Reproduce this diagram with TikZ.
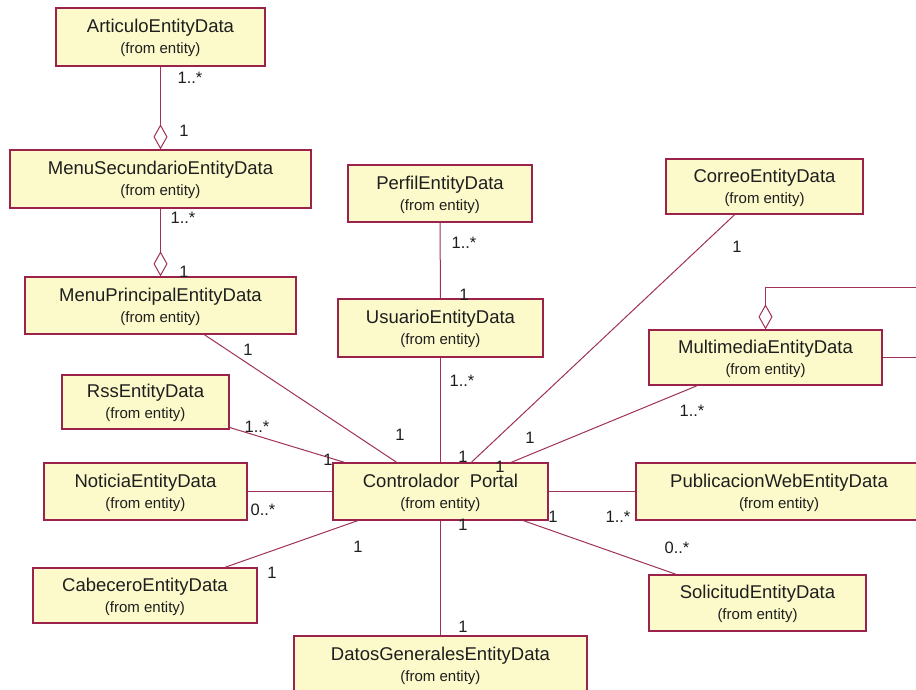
\documentclass[tikz,border=0pt]{standalone}
\usepackage{fontspec}
\setmainfont{Liberation Sans}
\usetikzlibrary{arrows.meta,calc}

\definecolor{umlred}{RGB}{155,35,75}
\definecolor{umlline}{RGB}{160,50,85}
\definecolor{umlfill}{RGB}{252,250,202}
\definecolor{umltext}{RGB}{30,30,30}

% class box contents: name on the first line, package on the second
\newcommand\etitle[1]{\rule{0pt}{16pt}#1}
\newcommand\efrom{{\fontsize{15}{21}\selectfont (from entity)}}

\tikzset{
  entity/.style={draw=umlred, line width=1.3pt, fill=umlfill, inner sep=0pt,
    align=center, text=umltext, minimum height=57pt,
    font=\fontsize{18.5}{21}\selectfont},
  assoc/.style={draw=umlline, line width=1pt},
  aggr/.style={assoc, -{Diamond[open, length=25pt, width=14pt, line width=1pt]}},
  mult/.style={inner sep=0pt, text=umltext, font=\fontsize{16.5}{18}\selectfont},
}

\begin{document}
\begin{tikzpicture}[x=1pt, y=-1pt]
\useasboundingbox (0,0) rectangle (916,690);
\clip (0,0) rectangle (916,690);
\fill[white] (0,0) rectangle (916,690);

% classes
\node[entity, minimum width=209pt, minimum height=58pt] (art)   at (160.5,37)    {\etitle{ArticuloEntityData}\\\efrom};
\node[entity, minimum width=301pt, minimum height=58pt] (msec)  at (160.5,179)   {\etitle{MenuSecundarioEntityData}\\\efrom};
\node[entity, minimum width=271pt, minimum height=57pt] (mprin) at (160.5,305.5) {\etitle{MenuPrincipalEntityData}\\\efrom};
\node[entity, minimum width=184pt, minimum height=57pt] (perf)  at (440,193.5)   {\etitle{PerfilEntityData}\\\efrom};
\node[entity, minimum width=205pt, minimum height=58pt] (usu)   at (440.5,328)   {\etitle{UsuarioEntityData}\\\efrom};
\node[entity, minimum width=197pt, minimum height=55pt] (corr)  at (764.5,186.5) {\etitle{CorreoEntityData}\\\efrom};
\node[entity, minimum width=233pt, minimum height=55pt] (mm)    at (765.5,357.5) {\etitle{MultimediaEntityData}\\\efrom};
\node[entity, minimum width=167pt, minimum height=54pt] (rss)   at (145.5,402)   {\etitle{RssEntityData}\\\efrom};
\node[entity, minimum width=203pt, minimum height=57pt] (noti)  at (145.5,491.5) {\etitle{NoticiaEntityData}\\\efrom};
\node[entity, minimum width=215pt, minimum height=57pt] (ctrl)  at (440.5,491.5) {\etitle{Controlador\ \ Portal}\\\efrom};
\node[entity, minimum width=286pt, minimum height=57pt] (pub)   at (779,491.5)   {\etitle{PublicacionWebEntityData}\\\efrom};
\node[entity, minimum width=224pt, minimum height=55pt] (cab)   at (145,595.5)   {\etitle{CabeceroEntityData}\\\efrom};
\node[entity, minimum width=217pt, minimum height=56pt] (sol)   at (757.5,603)   {\etitle{SolicitudEntityData}\\\efrom};
\node[entity, minimum width=293pt, minimum height=58pt] (datos) at (440.5,665)   {\etitle{DatosGeneralesEntityData}\\\efrom};

% aggregations
\draw[aggr] (art) -- (msec);
\draw[aggr] (msec) -- (mprin);
\draw[aggr] (mm.east) -- ++(42,0) |- ($(mm.north)+(0,-42)$) -- (mm.north);

% associations
\draw[assoc] (perf) -- (usu);
\draw[assoc] (usu) -- (ctrl);
\draw[assoc] (mprin) -- (ctrl);
\draw[assoc] (corr) -- (ctrl);
\draw[assoc] (mm) -- (ctrl);
\draw[assoc] (rss) -- (ctrl);
\draw[assoc] (noti) -- (ctrl);
\draw[assoc] (cab) -- (ctrl);
\draw[assoc] (ctrl) -- (datos);
\draw[assoc] (ctrl) -- (pub);
\draw[assoc] (ctrl) -- (sol);

% multiplicities
\node[mult] (m1)  at (190,78)  {1..*};
\node[mult] (m2)  at (184,131) {1};
\node[mult] (m3)  at (183,218) {1..*};
\node[mult] (m4)  at (184,272) {1};
\node[mult] (m5)  at (248,350) {1};
\node[mult] (m6)  at (400,435) {1};
\node[mult] (m7)  at (464,243) {1..*};
\node[mult] (m8)  at (464,295) {1};
\node[mult] (m9)  at (462,381) {1..*};
\node[mult] (m10) at (463,457) {1};
\node[mult] (m11) at (737,247) {1};
\node[mult] (m12) at (500,467) {1};
\node[mult] (m13) at (692,411) {1..*};
\node[mult] (m14) at (530,438) {1};
\node[mult] (m15) at (257,427) {1..*};
\node[mult] (m16) at (328,460) {1};
\node[mult] (m17) at (263,510) {0..*};
\node[mult] (m18) at (272,573) {1};
\node[mult] (m19) at (358,547) {1};
\node[mult] (m20) at (463,525) {1};
\node[mult] (m21) at (463,627) {1};
\node[mult] (m22) at (553,517) {1};
\node[mult] (m23) at (618,517) {1..*};
\node[mult] (m24) at (677,548) {0..*};
\end{tikzpicture}
\end{document}
